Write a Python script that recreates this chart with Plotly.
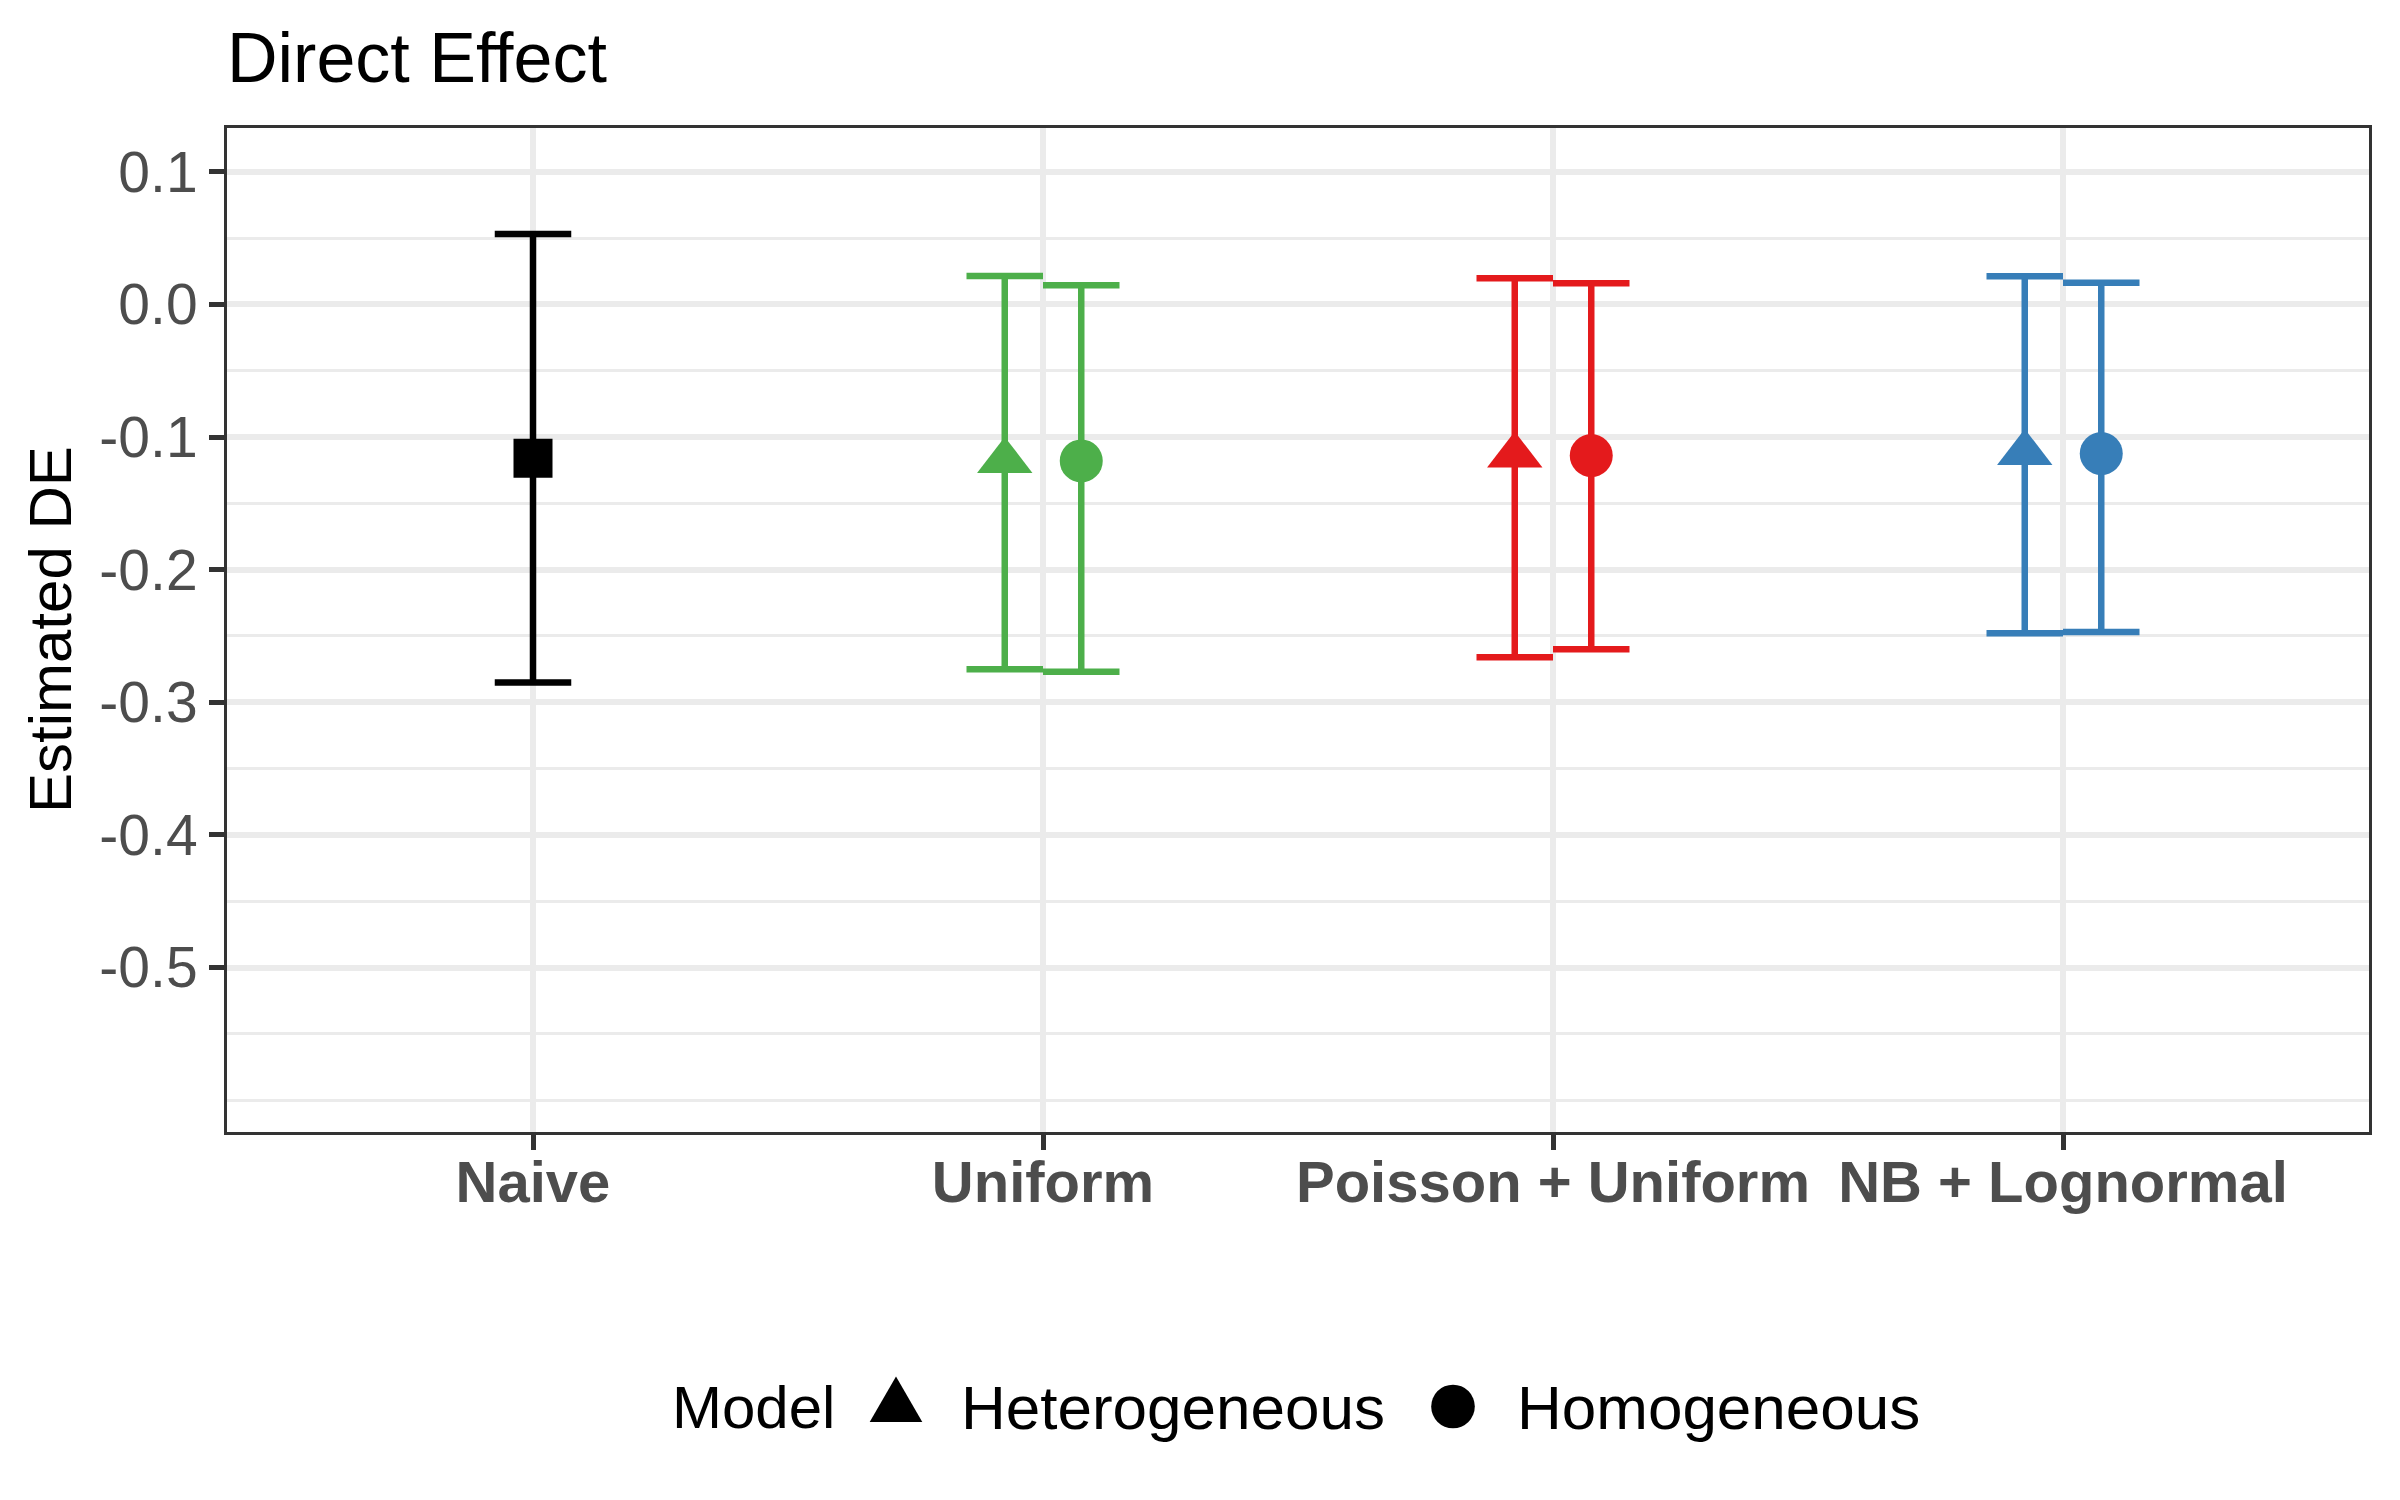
import plotly.graph_objects as go

# ---------------- data ----------------
categories = ["Naive", "Uniform", "Poisson + Uniform", "NB + Lognormal"]
model_types = ["Heterogeneous", "Homogeneous"]

naive_est = [-0.116]
naive_lower = [-0.285]
naive_upper = [0.053]

# order: Uniform, Poisson + Uniform, NB + Lognormal
het_est = [-0.118, -0.114, -0.112]
het_lower = [-0.275, -0.266, -0.248]
het_upper = [0.0215, 0.0198, 0.0213]

hom_est = [-0.118, -0.114, -0.1125]
hom_lower = [-0.277, -0.260, -0.247]
hom_upper = [0.0144, 0.0160, 0.0163]

model_colors = ["#4DAF4A", "#E41A1C", "#377EB8"]

y_major = [-0.5, -0.4, -0.3, -0.2, -0.1, 0.0, 0.1]
y_major_text = ["-0.5", "-0.4", "-0.3", "-0.2", "-0.1", "0.0", "0.1"]
y_minor = [-0.6, -0.55, -0.45, -0.35, -0.25, -0.15, -0.05, 0.05]

# ---------------- layout geometry ----------------
W, H = 2400, 1500
ML, MR, MT, MB = 227, 31, 128, 368
PW, PH = W - ML - MR, H - MT - MB
XR = [0.4, 4.6]
YR = [-0.624, 0.133]
DODGE = 0.075           # half of dodge width
CAP_HALF = 0.075        # half errorbar width (x units)
cap_px = CAP_HALF * PW / (XR[1] - XR[0])

def px2x(p):
    return (p - ML) / PW

def py2y(p):
    return (H - MB - p) / PH

FONT = "Liberation Sans, Arial, Helvetica, sans-serif"
LW = 6.5

fig = go.Figure()

# Naive
fig.add_trace(go.Scatter(
    x=[1], y=naive_est, mode="markers",
    marker=dict(symbol="square", size=39, color="black", line=dict(width=0)),
    error_y=dict(type="data", symmetric=False,
                 array=[u - e for u, e in zip(naive_upper, naive_est)],
                 arrayminus=[e - l for e, l in zip(naive_est, naive_lower)],
                 color="black", thickness=LW, width=cap_px),
    showlegend=False, hoverinfo="skip"))

for i in range(3):
    xc = i + 2
    col = model_colors[i]
    fig.add_trace(go.Scatter(
        x=[xc - DODGE], y=[het_est[i]], mode="markers",
        marker=dict(symbol="triangle-up", size=48, color=col, line=dict(width=0)),
        error_y=dict(type="data", symmetric=False,
                     array=[het_upper[i] - het_est[i]],
                     arrayminus=[het_est[i] - het_lower[i]],
                     color=col, thickness=LW, width=cap_px),
        showlegend=False, hoverinfo="skip"))
    fig.add_trace(go.Scatter(
        x=[xc + DODGE], y=[hom_est[i]], mode="markers",
        marker=dict(symbol="circle", size=43, color=col, line=dict(width=0)),
        error_y=dict(type="data", symmetric=False,
                     array=[hom_upper[i] - hom_est[i]],
                     arrayminus=[hom_est[i] - hom_lower[i]],
                     color=col, thickness=LW, width=cap_px),
        showlegend=False, hoverinfo="skip"))

shapes = [
    dict(type="line", xref="paper", x0=0, x1=1, yref="y", y0=0, y1=0,
         line=dict(color="#666666", width=5.3, dash="22.7px,22.7px"), layer="between"),
    # legend symbols
    dict(type="path", xref="paper", yref="paper", xsizemode="pixel", ysizemode="pixel",
         xanchor=px2x(896), yanchor=py2y(1422),
         path="M -26.3,0 L 26.3,0 L 0,45.6 Z",
         fillcolor="black", line=dict(width=0)),
    dict(type="circle", xref="paper", yref="paper", xsizemode="pixel", ysizemode="pixel",
         xanchor=px2x(1453), yanchor=py2y(1406.5),
         x0=-21.8, x1=21.8, y0=-21.8, y1=21.8,
         fillcolor="black", line=dict(width=0)),
]

annotations = [
    dict(text="Estimated DE", textangle=-90, xref="paper", yref="paper",
         x=px2x(50), y=0.5, xanchor="center", yanchor="middle", showarrow=False,
         font=dict(family=FONT, size=60, color="black")),
    dict(text="Model", xref="paper", yref="paper", x=px2x(670), y=py2y(1407),
         xanchor="left", yanchor="middle", showarrow=False,
         font=dict(family=FONT, size=60, color="black")),
    dict(text=model_types[0], xref="paper", yref="paper", x=px2x(959), y=py2y(1407),
         xanchor="left", yanchor="middle", showarrow=False,
         font=dict(family=FONT, size=62, color="black")),
    dict(text=model_types[1], xref="paper", yref="paper", x=px2x(1515), y=py2y(1407),
         xanchor="left", yanchor="middle", showarrow=False,
         font=dict(family=FONT, size=62, color="black")),
]

fig.update_layout(
    width=W, height=H,
    margin=dict(l=ML, r=MR, t=MT, b=MB, pad=0),
    paper_bgcolor="white", plot_bgcolor="white",
    font=dict(family=FONT, color="black"),
    title=dict(text="Direct Effect", x=0, xref="paper", xanchor="left",
               y=1 - 57 / H, yref="container", yanchor="middle",
               font=dict(family=FONT, size=70, color="black")),
    showlegend=False,
    shapes=shapes,
    annotations=annotations,
    xaxis=dict(range=XR, tickmode="array", tickvals=[1, 2, 3, 4], ticktext=categories,
               tickfont=dict(family=FONT, size=58, color="#4D4D4D", weight="bold"),
               ticklabelstandoff=-18,
               showgrid=True, gridcolor="#EBEBEB", gridwidth=5.7,
               ticks="outside", ticklen=15, tickwidth=5, tickcolor="#333333",
               showline=True, linecolor="#333333", linewidth=3, mirror=True,
               zeroline=False, fixedrange=True),
    yaxis=dict(range=YR, tickmode="array", tickvals=y_major, ticktext=y_major_text,
               tickfont=dict(family=FONT, size=57, color="#4D4D4D"),
               showgrid=True, gridcolor="#EBEBEB", gridwidth=5.7,
               minor=dict(tickmode="array", tickvals=y_minor, showgrid=True,
                          gridcolor="#EBEBEB", gridwidth=2.8, ticks=""),
               ticks="outside", ticklen=15, tickwidth=5, tickcolor="#333333",
               showline=True, linecolor="#333333", linewidth=3, mirror=True,
               zeroline=False, fixedrange=True),
)

fig.write_html("out.html", include_plotlyjs=True,
               config={"displayModeBar": False},
               post_script="document.body.style.margin='0';document.body.style.overflow='hidden';")
